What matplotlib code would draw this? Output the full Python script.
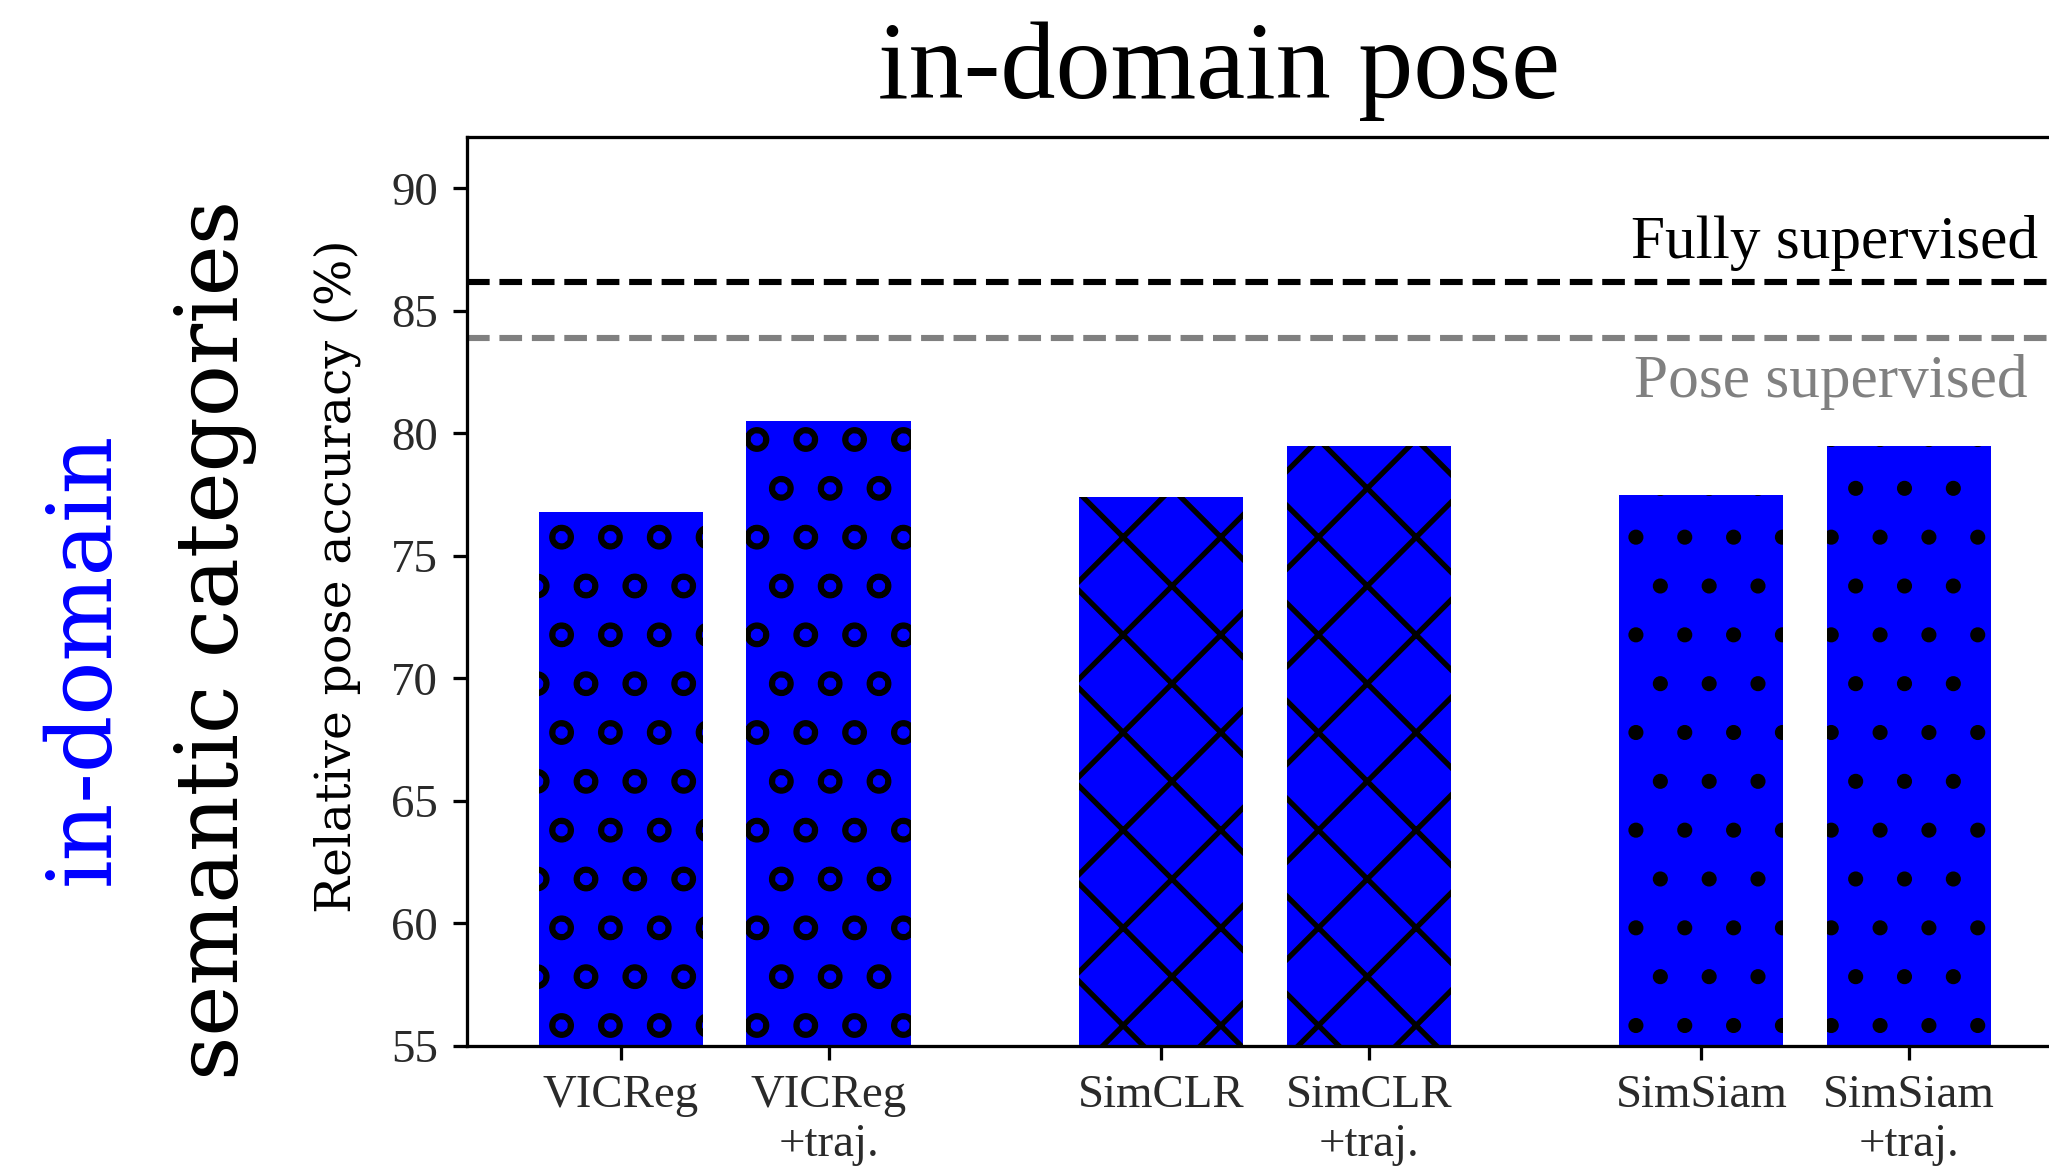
import matplotlib
matplotlib.use("Agg")
import matplotlib.pyplot as plt
import numpy as np

methods = ["VICReg", "SimCLR", "SimSiam"]
hatches = ["o", "x", "."]
base_acc = [76.8, 77.4, 77.5]
traj_acc = [80.5, 79.5, 79.5]
fully_sup = 86.2
pose_sup = 83.9
yticks = [55, 60, 65, 70, 75, 80, 85, 90]

plt.rcParams["hatch.color"] = "black"
plt.rcParams["hatch.linewidth"] = 1.3

DPI = 293.75
fig = plt.figure(figsize=(2049 / DPI, 1175 / DPI), dpi=DPI)
ax = fig.add_axes([0.2277, 0.110, 1.02 - 0.2277, 0.773])

serif = "Liberation Serif"
wide = "DejaVu Serif"

# two bars per method, groups spaced 2.6 apart
gap = 2.6
xs, vals, hts, labels = [], [], [], []
for i, m in enumerate(methods):
    xs += [i * gap, i * gap + 1]
    vals += [base_acc[i], traj_acc[i]]
    hts += [hatches[i]] * 2
    labels += [m, m + "\n+traj."]

for x, v, h in zip(xs, vals, hts):
    ax.bar(x, v - 55, bottom=55, width=0.79, color="#0000ff", hatch=h, linewidth=0)

ax.axhline(fully_sup, color="black", ls="--", lw=1.5)
ax.axhline(pose_sup, color="gray", ls="--", lw=1.5)
ax.text(6.82, fully_sup + 0.95, "Fully supervised", family=serif, fontsize=15,
        ha="right", va="baseline", color="black")
ax.text(6.77, pose_sup - 2.4, "Pose supervised", family=serif, fontsize=15,
        ha="right", va="baseline", color="gray")

ax.set_ylim(55, 92.08)
ax.set_xlim(-0.742, 7.07)
ax.set_yticks(yticks)
ax.set_xticks(xs)
ax.set_xticklabels(labels)
for lab in ax.get_xticklabels() + ax.get_yticklabels():
    lab.set_family(serif)
    lab.set_fontsize(11.5)
    lab.set_color("#2a2a2a")
ax.spines["right"].set_visible(False)

fig.text(0.595, 0.9166, "in-domain pose", family=serif, fontsize=27,
         ha="center", va="baseline")
fig.text(0.1645, 0.51, "Relative pose accuracy (%)", family=wide, fontsize=12,
         rotation=90, ha="center", va="center")
fig.text(0.105, 0.455, "semantic categories", family=wide, fontsize=21.2,
         rotation=90, ha="center", va="center")
fig.text(0.041, 0.44, "in-domain", family=wide, fontsize=22, color="#0000ff",
         rotation=90, ha="center", va="center")

fig.savefig("out.png", dpi=DPI, facecolor="white")
